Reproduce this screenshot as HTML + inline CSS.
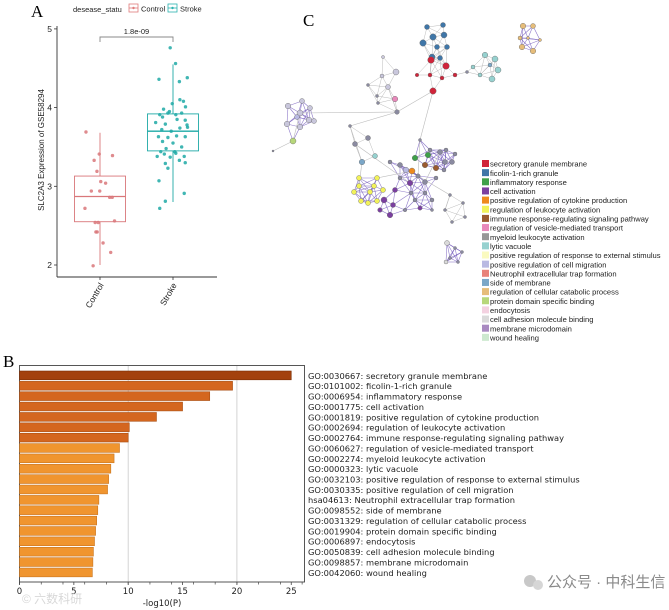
<!DOCTYPE html>
<html><head><meta charset="utf-8"><style>
body{margin:0;background:#fff;}
svg{display:block;}
</style></head><body>
<svg id="fig" width="669" height="610" viewBox="0 0 669 610" xmlns="http://www.w3.org/2000/svg">
<g id="pa"></g>
<g id="pb"></g>
<g id="pc"></g>
<g>
<circle cx="530" cy="581" r="6" fill="#c8c8c8"/><circle cx="538" cy="585" r="5" fill="#d6d6d6"/>
<text x="547" y="587" font-family="Liberation Sans, Noto Sans CJK SC, sans-serif" font-size="15" fill="#8a8a8a">公众号 · 中科生信</text>
<text x="22" y="603" font-family="Liberation Sans, Noto Sans CJK SC, sans-serif" font-size="12" fill="#d8d8d8">© 六数科研</text>
</g>
</svg>
<script>
const NS='http://www.w3.org/2000/svg';
function mk(p,t,a,txt){const e=document.createElementNS(NS,t);for(const k in a)e.setAttribute(k,a[k]);if(txt!==undefined)e.textContent=txt;p.appendChild(e);return e;}
const F='Liberation Sans, DejaVu Sans, sans-serif';

// ===== Panel A data =====
const groupNames=['Control','Stroke'];
const yTicksA=[2,3,4,5];
const controlStats=[2.0,2.55,2.87,3.13,3.68]; // min q1 med q3 max
const strokeStats=[2.8,3.45,3.70,3.92,4.55];
const controlVals=[3.69,3.41,3.39,3.33,3.19,3.06,3.04,2.94,2.94,2.86,2.86,2.72,2.54,2.54,2.56,2.42,2.42,2.28,2.16,1.99];
const controlJit=[-0.55,-0.03,0.49,-0.23,-0.12,0.03,0.22,-0.34,-0.01,0.38,0.48,-0.59,-0.07,-0.19,0.57,-0.16,-0.11,0.12,0.42,-0.27];
const strokeVals=[4.76,4.56,4.36,4.33,4.38,4.10,4.08,4.01,4.05,3.98,3.95,3.91,3.93,3.91,3.88,3.93,3.84,3.81,3.85,3.79,3.78,3.72,3.70,3.74,3.75,3.63,3.62,3.64,3.63,3.57,3.55,3.50,3.48,3.44,3.44,3.41,3.42,3.38,3.37,3.38,3.29,3.33,3.30,3.23,3.07,2.91,2.81,2.72];
const strokeJit=[-0.11,0.1,-0.55,0.25,0.56,0.27,0.41,0.49,-0.03,-0.37,-0.14,-0.52,-0.2,0.11,-0.41,0.34,0.48,-0.68,0.16,-0.3,0.55,-0.44,-0.07,0.27,0.57,-0.57,-0.2,0.14,0.48,-0.41,0.0,0.34,-0.27,-0.48,0.07,-0.34,0.11,-0.62,-0.11,0.44,-0.3,0.25,0.48,-0.2,-0.55,0.44,-0.3,-0.52];
const pText='1.8e-09';

const A=document.getElementById('pa');
const ay=v=>265-(v-2)*78.7;
const ax=i=>100+i*73;
const halfW=25.5;
mk(A,'text',{x:31,y:17,'font-family':'Liberation Serif, serif','font-size':17,},'A');
mk(A,'text',{x:73,y:12,'font-family':F,'font-size':7.5,fill:'#222',},'desease_statu');
[['Control','#e07b7b',129],['Stroke','#2ab3b0',168]].forEach(([n,c,x])=>{
 const g=mk(A,'g',{});
 mk(g,'rect',{x:x,y:4,width:9,height:8,fill:'none',stroke:c,'stroke-width':0.8});
 mk(g,'line',{x1:x,y1:8,x2:x+9,y2:8,stroke:c,'stroke-width':0.8});
 mk(g,'circle',{cx:x+4.5,cy:8,r:1.2,fill:c});
 mk(g,'text',{x:x+12,y:11.5,'font-family':F,'font-size':7.5,fill:'#222'},n);
});
mk(A,'line',{x1:57,y1:26,x2:57,y2:277,stroke:'#333','stroke-width':0.9,});
mk(A,'line',{x1:57,y1:277,x2:217,y2:277,stroke:'#333','stroke-width':0.9,});
yTicksA.forEach(t=>{
 mk(A,'line',{x1:54,y1:ay(t),x2:57,y2:ay(t),stroke:'#333','stroke-width':0.8});
 const e=mk(A,'text',{x:52,y:ay(t)+3,'text-anchor':'end','font-family':F,'font-size':8.5,fill:'#222'},String(t));
 
});
const yt=mk(A,'text',{x:0,y:0,transform:'translate(44,150) rotate(-90)','text-anchor':'middle','font-family':F,'font-size':8,fill:'#222'},'SLC2A3 Expression of GSE58294');

groupNames.forEach((n,i)=>{
 mk(A,'line',{x1:ax(i),y1:277,x2:ax(i),y2:280,stroke:'#333','stroke-width':0.8});
 const e=mk(A,'text',{x:0,y:0,transform:`translate(${ax(i)+4},285) rotate(-60)`,'text-anchor':'end','font-family':F,'font-size':8.5,fill:'#222'},n);
 
});
function box(i,s,vals,jit,col,name){
 const g=mk(A,'g',{});
 
 const x=ax(i);
 mk(g,'line',{x1:x,y1:ay(s[0]),x2:x,y2:ay(s[1]),stroke:col,'stroke-width':0.9});
 mk(g,'line',{x1:x,y1:ay(s[3]),x2:x,y2:ay(s[4]),stroke:col,'stroke-width':0.9});
 mk(g,'rect',{x:x-halfW,y:ay(s[3]),width:2*halfW,height:ay(s[1])-ay(s[3]),fill:'none',stroke:col,'stroke-width':0.9});
 mk(g,'line',{x1:x-halfW,y1:ay(s[2]),x2:x+halfW,y2:ay(s[2]),stroke:col,'stroke-width':1.3});
 vals.forEach((v,k)=>{const c=mk(g,'circle',{cx:x+jit[k]*halfW,cy:ay(v),r:1.7,fill:col,opacity:0.85});
  });
}
box(0,controlStats,controlVals,controlJit,'#d9777a','control');
box(1,strokeStats,strokeVals,strokeJit,'#1ea9a6','stroke');
const br=mk(A,'g',{});
mk(br,'path',{d:`M${ax(0)},42 V37 H${ax(1)} V42`,fill:'none',stroke:'#888','stroke-width':0.9});
mk(br,'text',{x:(ax(0)+ax(1))/2,y:34,'text-anchor':'middle','font-family':F,'font-size':7.5,fill:'#222'},pText);

// ===== Panel B data =====
const termLabels=['GO:0030667: secretory granule membrane','GO:0101002: ficolin-1-rich granule','GO:0006954: inflammatory response','GO:0001775: cell activation','GO:0001819: positive regulation of cytokine production','GO:0002694: regulation of leukocyte activation','GO:0002764: immune response-regulating signaling pathway','GO:0060627: regulation of vesicle-mediated transport','GO:0002274: myeloid leukocyte activation','GO:0000323: lytic vacuole','GO:0032103: positive regulation of response to external stimulus','GO:0030335: positive regulation of cell migration','hsa04613: Neutrophil extracellular trap formation','GO:0098552: side of membrane','GO:0031329: regulation of cellular catabolic process','GO:0019904: protein domain specific binding','GO:0006897: endocytosis','GO:0050839: cell adhesion molecule binding','GO:0098857: membrane microdomain','GO:0042060: wound healing'];
const logP=[25.0,19.6,17.5,15.0,12.6,10.1,10.0,9.2,8.7,8.4,8.2,8.1,7.3,7.2,7.1,7.0,6.9,6.8,6.75,6.7];
const xTicksB=[0,5,10,15,20,25];
const B=document.getElementById('pb');
const bx=v=>19.5+v*10.87;
const by=i=>371+i*10.37;
mk(B,'text',{x:3,y:367,'font-family':'Liberation Serif, serif','font-size':17,},'B');
[10,20].forEach(v=>mk(B,'line',{x1:bx(v),y1:366,x2:bx(v),y2:582,stroke:'#cfcfcf','stroke-width':0.9}));
mk(B,'rect',{x:19.5,y:365.5,width:285,height:216.5,fill:'none',stroke:'#444','stroke-width':0.9,});
logP.forEach((v,i)=>{
 const fill=i===0?'#a3410d':(i<7?'#d4661f':'#f0952f');
 const stroke=i===0?'#7a2e05':(i<7?'#a94f14':'#c97520');
 const r=mk(B,'rect',{x:bx(0),y:by(i),width:bx(v)-bx(0),height:8.8,fill:fill,stroke:stroke,'stroke-width':0.6});
 
 const t=mk(B,'text',{x:308,y:by(i)+7.8,'font-family':'DejaVu Sans, sans-serif','font-size':8.3,fill:'#222'},termLabels[i]);
 
});
for(let v=0;v<=26;v+=2)mk(B,'line',{x1:bx(v),y1:582,x2:bx(v),y2:584.5,stroke:'#444','stroke-width':0.7});
xTicksB.forEach(v=>{
 mk(B,'line',{x1:bx(v),y1:582,x2:bx(v),y2:585,stroke:'#444','stroke-width':0.8});
 const t=mk(B,'text',{x:bx(v),y:594,'text-anchor':'middle','font-family':'DejaVu Sans, sans-serif','font-size':8.5,fill:'#222'},String(v));
 
});
const xt=mk(B,'text',{x:162,y:606,'text-anchor':'middle','font-family':'DejaVu Sans, sans-serif','font-size':8.5,fill:'#222'},'-log10(P)');


// ===== Panel C =====
const legendLabels=['secretory granule membrane','ficolin-1-rich granule','inflammatory response','cell activation','positive regulation of cytokine production','regulation of leukocyte activation','immune response-regulating signaling pathway','regulation of vesicle-mediated transport','myeloid leukocyte activation','lytic vacuole','positive regulation of response to external stimulus','positive regulation of cell migration','Neutrophil extracellular trap formation','side of membrane','regulation of cellular catabolic process','protein domain specific binding','endocytosis','cell adhesion molecule binding','membrane microdomain','wound healing'];
const legendColors=['#d0243a','#3f76a8','#3fa04a','#7b3fa0','#ee8a1e','#f2f25a','#9a5a30','#e889bb','#979797','#96d1cf','#fafac0','#b9b9e2','#e8827a','#7ba7c8','#e6bd7a','#b7d77a','#f3d1e0','#dadada','#a98ac1','#cde8cf'];
const C=document.getElementById('pc');
mk(C,'text',{x:303,y:26,'font-family':'Liberation Serif, serif','font-size':17,},'C');
// nodes: [x,y,colorIndex(-1 gray/white),r,cluster]
const nodes=[
[427,27,1,2.5,0],[443,25,1,2.5,0],[433,37,1,3.2,0],[444,35,1,3,0],[423,43,1,3.2,0],[437,47,1,2.5,0],[447,47,1,2.5,0],[432,57,1,3,0],[440,58,1,2.5,0],[431,60,0,3.3,0],[446,66,0,3.3,0],[430,75,0,2,0],[442,78,0,2,0],[455,75,0,2,0],[433,91,0,3.2,0],[417,75,0,1.8,0],
[485,55,9,2.8,1],[495,59,9,3,1],[498,70,9,3,1],[492,79,9,3,1],[473,67,9,2,1],[480,75,9,2,1],[490,65,13,2,1],[467,72,-1,1.5,1],
[528,38,14,1.5,2],[523,26,14,2.8,2],[533,26,14,2.5,2],[520,38,14,2,2],[522,47,14,2.8,2],[533,51,14,2.8,2],[540,40,14,1.5,2],
[383,57,-2,1.5,3],[396,72,-2,3,3],[382,76,-2,2,3],[388,87,-2,2.5,3],[395,99,7,2.8,3],[397,112,-1,2.3,3],[368,85,-1,1.5,3],[378,103,-1,1.5,3],[377,96,-1,1.5,3],
[300,113,-2,3,4],[288,106,-2,2.8,4],[302,101,-2,2.5,4],[310,108,-2,2.5,4],[309,120,-2,2.8,4],[287,124,-2,2.8,4],[300,127,-2,2.8,4],[314,121,-2,2.5,4],[297,117,11,2.5,4],[293,141,15,3,4],[273,151,-1,1,4],
[350,126,-1,1.5,5],[368,138,-1,2.5,5],[355,144,-1,2.5,5],[375,156,9,2.5,5],[362,162,13,2.8,5],
[420,140,-1,1.5,6],[430,150,-1,2,6],[440,152,-1,2.5,6],[446,150,-1,2,6],[455,154,-1,2,6],[415,158,2,2.8,6],[428,155,2,2.8,6],[425,165,6,2.8,6],[445,162,-1,2.5,6],[452,162,-1,2.5,6],[436,168,6,2.8,6],[444,170,-1,2,6],
[390,162,-1,2,7],[400,165,-1,2.5,7],[406,170,11,2.8,7],[412,171,4,3,7],[418,176,-1,2.2,7],[400,178,-1,2,7],[410,183,3,2.8,7],[425,182,-1,2.5,7],[395,190,3,2.5,7],[384,200,3,3,7],[393,205,3,2.5,7],[380,210,3,2.3,7],[390,215,3,2.8,7],[411,193,-1,2,7],[425,193,-1,2,7],[415,200,-1,2,7],[420,208,3,2.2,7],[405,210,-1,1.8,7],[432,200,-1,2,7],[432,210,-1,1.5,7],[436,178,-1,2,7],
[359,178,5,2.5,8],[359,186,5,2.5,8],[354,192,5,2.5,8],[370,192,5,2.5,8],[377,178,5,2.5,8],[374,186,5,2.5,8],[361,201,5,2.5,8],[368,203,5,2.5,8],[377,201,5,2.5,8],[383,190,5,2.5,8],
[450,195,-1,1.5,9],[463,203,-1,1.5,9],[452,222,-1,1.5,9],[465,217,-1,1.5,9],[445,210,-1,1.5,9],
[447,243,17,2.5,10],[455,248,-1,1.5,10],[462,252,-1,1.5,10],[450,258,-1,1.5,10],[458,262,-1,1.5,10],[446,262,17,2,10]
];
const eg=mk(C,'g',{});
for(let i=0;i<nodes.length;i++)for(let j=i+1;j<nodes.length;j++){
 const a=nodes[i],b=nodes[j];const d=Math.hypot(a[0]-b[0],a[1]-b[1]);
 if(a[4]===b[4]&&d<22){const dense=(a[4]>=6&&a[4]<=8)||a[4]===2||a[4]===4||a[4]===10;
  mk(eg,'line',{x1:a[0],y1:a[1],x2:b[0],y2:b[1],stroke:dense?'#6a4fb8':'#aaa','stroke-width':dense?0.6:0.5,opacity:dense?0.75:0.8});}
}
const links=[[14,36],[14,56],[36,40],[36,51],[51,55],[40,49],[49,50],[56,72],[55,90],[36,34],[13,23],[72,99],[99,103],[71,93],[58,75],[53,74]];
links.forEach(([i,j])=>{const a=nodes[i],b=nodes[j];if(a&&b)mk(eg,'line',{x1:a[0],y1:a[1],x2:b[0],y2:b[1],stroke:'#bbb','stroke-width':0.6});});
const ng=mk(C,'g',{});
nodes.forEach(n=>{
 const col=n[2]>=0?legendColors[n[2]]:(n[2]===-2?'#c9c7dc':'#8a8aa0');
 const c=mk(ng,'circle',{cx:n[0],cy:n[1],r:n[3],fill:col,stroke:'#666','stroke-width':0.4});
 
});
const lg=mk(C,'g',{});
legendLabels.forEach((t,i)=>{
 const y=160+i*9.15;
 const e=mk(lg,'g',{});
 mk(e,'rect',{x:482,y:y,width:7,height:7,fill:legendColors[i]});
 mk(e,'text',{x:490,y:y+6.6,'font-family':F,'font-size':7.6,fill:'#222'},t);
});
</script>
</body></html>
